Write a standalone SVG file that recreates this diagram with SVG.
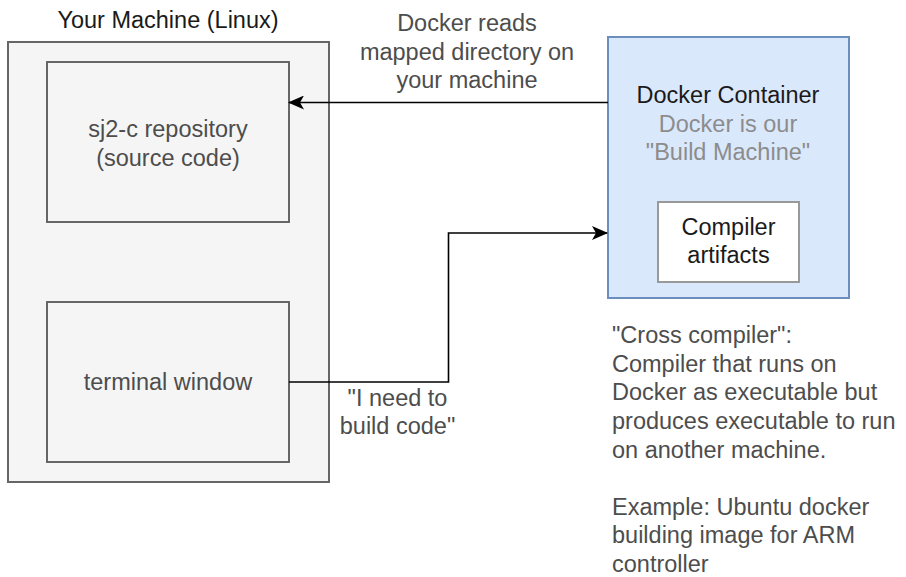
<svg xmlns="http://www.w3.org/2000/svg" width="906" height="577" viewBox="0 0 906 577">
  <style>
    text { font-family: "Liberation Sans", Arial, Helvetica, sans-serif; font-size: 23.5px; }
    .box { fill: #f5f5f5; stroke: #666666; stroke-width: 2; }
    .c { text-anchor: middle; }
    .dark { fill: #1a1a1a; }
    .grey { fill: #4d4d4d; }
    .light { fill: #8c8c8c; }
    .edge { fill: none; stroke: #000000; stroke-width: 1.6; }
  </style>
  <defs>
    <marker id="arrow" viewBox="0 0 16 14" refX="15" refY="7" markerWidth="16" markerHeight="14" markerUnits="userSpaceOnUse" orient="auto">
      <path d="M0,0 L16,7 L0,14 L4,7 Z" fill="#000000"/>
    </marker>
  </defs>
  <rect width="906" height="577" fill="#ffffff"/>

  <g id="your-machine">
    <rect class="box" x="8" y="42" width="321" height="440"/>
    <text class="c dark" x="168" y="28">Your Machine (Linux)</text>
  </g>

  <g id="repository">
    <rect class="box" x="47" y="62" width="242" height="160"/>
    <text class="c grey" x="168" y="137">sj2-c repository</text>
    <text class="c grey" x="168" y="165.5">(source code)</text>
  </g>

  <g id="terminal">
    <rect class="box" x="47" y="302" width="242" height="160"/>
    <text class="c grey" x="168" y="390">terminal window</text>
  </g>

  <g id="docker-container">
    <rect x="608" y="37" width="241" height="261" fill="#dae8fc" stroke="#6c8ebf" stroke-width="2"/>
    <text class="c dark" x="728" y="103">Docker Container</text>
    <text class="c light" x="728" y="131.7">Docker is our</text>
    <text class="c light" x="728" y="160.3">"Build Machine"</text>
  </g>

  <g id="compiler-artifacts">
    <rect x="658" y="202" width="141" height="80" fill="#ffffff" stroke="#999999" stroke-width="2"/>
    <text class="c dark" x="728.5" y="234.5">Compiler</text>
    <text class="c dark" x="728.5" y="263">artifacts</text>
  </g>

  <g id="cross-compiler-note">
    <text class="grey" x="612" y="343.3">"Cross compiler":</text>
    <text class="grey" x="612" y="371.8">Compiler that runs on</text>
    <text class="grey" x="612" y="400.4">Docker as executable but</text>
    <text class="grey" x="612" y="428.9">produces executable to run</text>
    <text class="grey" x="612" y="457.5">on another machine.</text>
    <text class="grey" x="612" y="514.6">Example: Ubuntu docker</text>
    <text class="grey" x="612" y="543.1">building image for ARM</text>
    <text class="grey" x="612" y="571.7">controller</text>
  </g>

  <g id="connectors">
    <path class="edge" d="M608,102.5 L289,102.5" marker-end="url(#arrow)"/>
    <path class="edge" d="M289,382 L448.5,382 L448.5,233 L607,233" marker-end="url(#arrow)"/>
    <g id="edge-labels">
      <text class="c grey" x="467" y="30.5">Docker reads</text>
      <text class="c grey" x="467" y="59.5">mapped directory on</text>
      <text class="c grey" x="467" y="88">your machine</text>
      <text class="c grey" x="397.5" y="406">"I need to</text>
      <text class="c grey" x="397.5" y="434">build code"</text>
    </g>
  </g>
</svg>
